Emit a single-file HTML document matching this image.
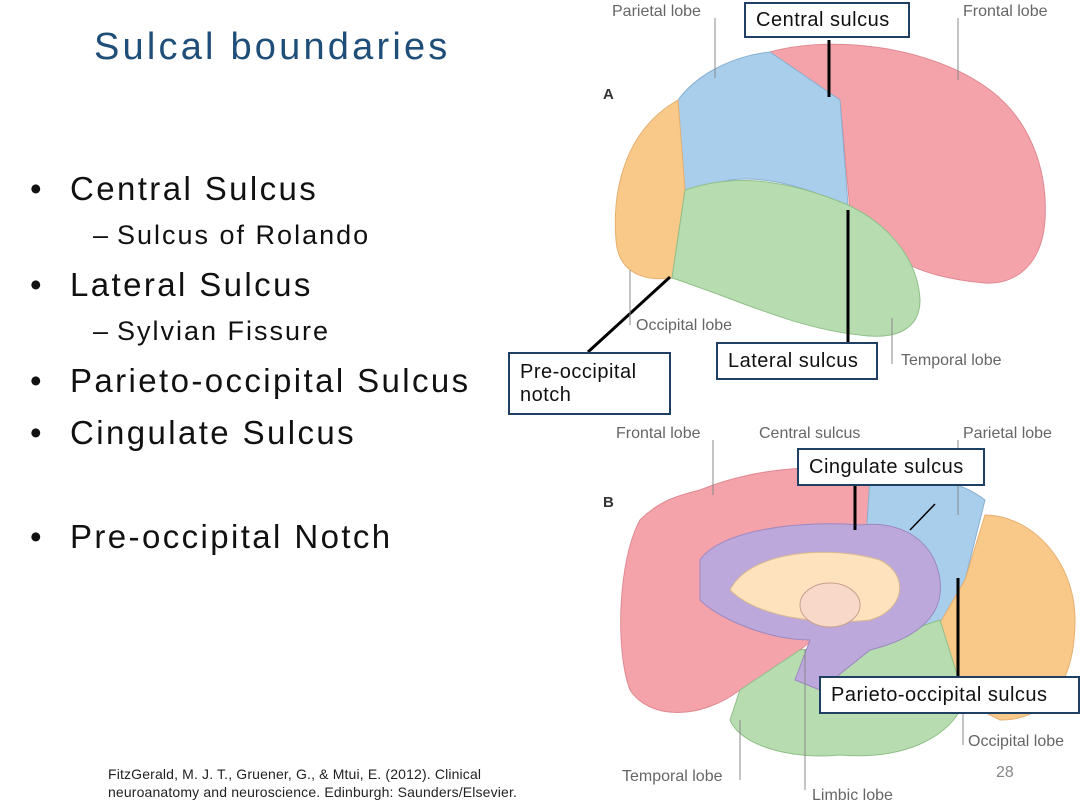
<!DOCTYPE html>
<html><head><meta charset="utf-8"><style>
html,body{margin:0;padding:0;background:#fff}
body{width:1080px;height:810px;position:relative;overflow:hidden;font-family:"Liberation Sans",sans-serif}
.t{position:absolute;white-space:nowrap}
.b{position:absolute;background:#fff;border:2px solid #1f3f63;color:#111;font-size:20px;padding:0 10px;box-sizing:border-box;letter-spacing:0.5px;white-space:nowrap}
.big{font-size:33px;letter-spacing:2.4px}
.sub{font-size:27px;letter-spacing:2px}
</style></head><body>
<div class="t" style="left:94px;top:26px;font-size:38px;color:#1f4e79;letter-spacing:3.2px">Sulcal boundaries</div>
<div style="position:absolute;left:0;top:0;color:#111">
<div class="t big" style="left:30px;top:170px">•</div><div class="t big" style="left:70px;top:170px">Central Sulcus</div>
<div class="t sub" style="left:93px;top:220px">–</div><div class="t sub" style="left:117px;top:220px">Sulcus of Rolando</div>
<div class="t big" style="left:30px;top:266px">•</div><div class="t big" style="left:70px;top:266px">Lateral Sulcus</div>
<div class="t sub" style="left:93px;top:316px">–</div><div class="t sub" style="left:117px;top:316px">Sylvian Fissure</div>
<div class="t big" style="left:30px;top:362px">•</div><div class="t big" style="left:70px;top:362px">Parieto-occipital Sulcus</div>
<div class="t big" style="left:30px;top:414px">•</div><div class="t big" style="left:70px;top:414px">Cingulate Sulcus</div>
<div class="t big" style="left:30px;top:518px">•</div><div class="t big" style="left:70px;top:518px">Pre-occipital Notch</div>
</div>
<div class="t" style="left:108px;top:765px;font-size:14px;line-height:18px;color:#222;letter-spacing:0.15px">FitzGerald, M. J. T., Gruener, G., &amp; Mtui, E. (2012). Clinical<br>neuroanatomy and neuroscience. Edinburgh: Saunders/Elsevier.</div>
<div class="t" style="left:996px;top:764px;font-size:16px;color:#888">28</div>

<svg width="1080" height="810" style="position:absolute;left:0;top:0" font-family="Liberation Sans, sans-serif">
<g>
<path d="M770,52 C830,35 930,45 990,90 C1030,120 1048,170 1045,220 C1042,265 1015,285 985,283 C950,280 920,272 905,262 L850,210 L840,100 Z" fill="#f5a3ab" stroke="#e08890"/>
<path d="M678,100 C700,70 740,55 770,52 L840,100 L848,205 C810,190 770,175 730,180 L685,190 Z" fill="#a8ceec" stroke="#8ab0d0"/>
<path d="M678,100 L685,190 L672,278 C640,282 618,270 616,240 C612,190 625,130 678,100 Z" fill="#f9c98a" stroke="#e6b070"/>
<path d="M685,190 C720,178 770,172 848,205 C890,225 918,260 920,300 C920,330 895,340 860,335 C810,330 760,310 720,295 C700,288 685,282 672,278 Z" fill="#b7dcb0" stroke="#90bf88"/>
<g stroke="#000" stroke-width="3"><line x1="829" y1="40" x2="829" y2="97"/><line x1="848" y1="210" x2="848" y2="342"/><line x1="670" y1="277" x2="588" y2="352"/></g>
<g stroke="#888" stroke-width="1"><line x1="715" y1="18" x2="715" y2="78"/><line x1="958" y1="18" x2="958" y2="80"/><line x1="630" y1="270" x2="630" y2="325"/><line x1="892" y1="318" x2="892" y2="364"/></g>
<g fill="#666" font-size="16"><text x="612" y="16">Parietal lobe</text><text x="963" y="16">Frontal lobe</text><text x="636" y="330">Occipital lobe</text><text x="901" y="365">Temporal lobe</text></g>
<text x="603" y="99" font-size="15" font-weight="bold" fill="#333">A</text>
</g>
<g>
<path d="M700,490 C760,465 840,462 870,478 L862,600 L800,650 L740,690 C700,720 650,720 630,690 C615,650 618,560 640,520 C660,500 680,495 700,490 Z" fill="#f5a3ab" stroke="#e08890"/>
<path d="M870,478 C910,470 960,480 985,500 L965,580 L930,640 L862,600 Z" fill="#a8ceec" stroke="#8ab0d0"/>
<path d="M985,515 C1030,515 1075,560 1075,620 C1075,680 1050,720 1000,720 L960,700 L930,640 L965,580 Z" fill="#f9c98a" stroke="#e6b070"/>
<path d="M740,690 L800,650 L880,640 L940,620 L965,700 C950,740 900,760 840,755 C790,760 740,745 730,720 Z" fill="#b7dcb0" stroke="#90bf88"/>
<path d="M700,560 C720,530 800,520 860,525 C900,520 935,540 940,580 C945,620 910,640 870,650 L820,690 L795,680 L810,640 C770,640 720,620 700,600 Z" fill="#bca8da" stroke="#9c88c0"/>
<path d="M730,590 C750,550 830,545 880,560 C910,575 905,610 870,620 C830,625 760,620 730,590 Z" fill="#fde2bd" stroke="#d8b890"/>
<ellipse cx="830" cy="605" rx="30" ry="22" fill="#f8d8c8" stroke="#c8a090"/>
<g stroke="#000" stroke-width="3"><line x1="855" y1="486" x2="855" y2="530"/><line x1="958" y1="578" x2="958" y2="680"/></g>
<line x1="935" y1="504" x2="910" y2="530" stroke="#000" stroke-width="1.5"/>
<g stroke="#888" stroke-width="1"><line x1="713" y1="440" x2="713" y2="495"/><line x1="958" y1="440" x2="958" y2="515"/><line x1="740" y1="720" x2="740" y2="780"/><line x1="805" y1="650" x2="805" y2="790"/><line x1="963" y1="700" x2="963" y2="745"/></g>
<g fill="#666" font-size="16"><text x="616" y="438">Frontal lobe</text><text x="759" y="438">Central sulcus</text><text x="963" y="438">Parietal lobe</text><text x="622" y="781">Temporal lobe</text><text x="812" y="800">Limbic lobe</text><text x="968" y="746">Occipital lobe</text></g>
<text x="603" y="507" font-size="15" font-weight="bold" fill="#333">B</text>
</g>
</svg>

<div class="b" style="left:744px;top:2px;width:166px;height:36px;line-height:32px">Central sulcus</div>
<div class="b" style="left:716px;top:342px;width:162px;height:38px;line-height:34px">Lateral sulcus</div>
<div class="b" style="left:508px;top:352px;width:163px;height:63px;line-height:23px;padding-top:7px">Pre-occipital<br>notch</div>
<div class="b" style="left:797px;top:448px;width:188px;height:38px;line-height:34px">Cingulate sulcus</div>
<div class="b" style="left:819px;top:676px;width:261px;height:38px;line-height:34px">Parieto-occipital sulcus</div>
</body></html>
